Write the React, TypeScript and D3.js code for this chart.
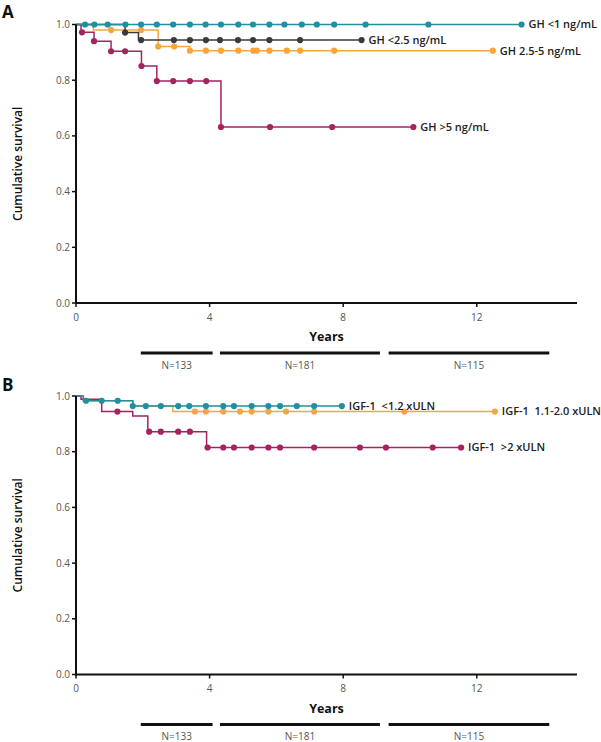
import * as d3 from "d3";

// ---- Panel A: GH groups (step times / survival after step / censor marks in years)
const gh1StepT = [0];
const gh1StepS = [1.0];
const gh1Censor = [0.27, 0.55, 0.95, 1.48, 1.95, 2.42, 2.91, 3.41, 3.88, 4.34, 4.86, 5.3, 5.79, 6.24, 6.76, 7.21, 7.73, 8.67, 10.55, 13.34];

const gh25StepT = [0, 1.47, 1.87];
const gh25StepS = [1.0, 0.971, 0.944];
const gh25Censor = [1.47, 1.95, 2.93, 3.41, 3.89, 4.31, 4.85, 5.3, 5.79, 6.71, 8.55];

const gh255StepT = [0, 0.52, 2.46, 3.41];
const gh255StepS = [1.0, 0.98, 0.921, 0.906];
const gh255Censor = [1.05, 1.95, 2.46, 2.94, 3.41, 3.89, 4.34, 4.86, 5.31, 5.41, 5.79, 6.31, 6.71, 7.73, 12.48];

const gh5StepT = [0, 0.15, 0.54, 1.05, 1.96, 2.42, 4.34];
const gh5StepS = [1.0, 0.972, 0.94, 0.904, 0.851, 0.797, 0.632];
const gh5Censor = [0.18, 0.54, 1.05, 1.47, 1.96, 2.42, 2.91, 3.41, 3.9, 4.34, 5.81, 7.67, 10.1];

// ---- Panel B: IGF-1 groups
const igfLowStepT = [0, 0.22, 1.7];
const igfLowStepS = [1.0, 0.983, 0.964];
const igfLowCensor = [0.3, 0.77, 1.25, 1.7, 2.09, 2.54, 3.06, 3.39, 3.89, 4.41, 4.73, 5.26, 5.76, 6.11, 6.61, 7.13, 7.96];

const igfMidStepT = [0, 0.22, 1.7, 2.9];
const igfMidStepS = [1.0, 0.983, 0.964, 0.944];
const igfMidCensor = [3.56, 3.89, 4.41, 4.91, 5.26, 5.76, 6.29, 7.13, 9.83, 12.54];

const igfHighStepT = [0, 0.15, 0.77, 1.7, 2.15, 3.91];
const igfHighStepS = [1.0, 0.988, 0.944, 0.928, 0.872, 0.815];
const igfHighCensor = [1.24, 2.19, 2.54, 3.06, 3.41, 3.94, 4.41, 4.73, 5.26, 5.76, 6.11, 7.13, 8.5, 9.28, 10.68, 11.53];

// axes + numbers at risk
const xTicks = [0, 4, 8, 12];
const yTicks = [0, 0.2, 0.4, 0.6, 0.8, 1.0];
const riskStart = [1.94, 4.31, 9.36];
const riskEnd = [4.09, 9.1, 14.17];
const riskLabels = ["N=133", "N=181", "N=115"];

const TEAL = "#1f8fa2";
const DARK = "#3a3a3a";
const ORANGE = "#f8a53c";
const MAGENTA = "#a3245f";
const FONT = "'Open Sans', sans-serif";

type Curve = {
  stepT: number[];
  stepS: number[];
  censor: number[];
  color: string;
  label: string;
};

function survAt(c: Curve, t: number) {
  let s = c.stepS[0];
  c.stepT.forEach((st, i) => {
    if (st <= t + 1e-9) s = c.stepS[i];
  });
  return s;
}

function Panel({
  top,
  letter,
  letterY,
  curves,
}: {
  top: number;
  letter: string;
  letterY: number;
  curves: Curve[];
}) {
  const x = d3.scaleLinear().domain([0, 15]).range([76, 577]);
  const y = d3.scaleLinear().domain([0, 1]).range([top + 278.5, top]);
  const y0 = y(0);

  const line = d3
    .line<[number, number]>()
    .x((d) => x(d[0]))
    .y((d) => y(d[1]))
    .curve(d3.curveStepAfter);

  return (
    <g>
      <text x={2} y={letterY} fontFamily={FONT} fontWeight={700} fontSize={17} fill="#111">
        {letter}
      </text>
      <text
        transform={`translate(22,${(y(0) + y(1)) / 2}) rotate(-90)`}
        textAnchor="middle"
        fontFamily={FONT}
        fontWeight={600}
        fontSize={12}
        fill="#111"
      >
        Cumulative survival
      </text>

      {/* curves */}
      {curves.map((c, ci) => {
        const end = c.censor[c.censor.length - 1];
        const pts: [number, number][] = c.stepT.map((t, i) => [t, c.stepS[i]]);
        pts.push([end, c.stepS[c.stepS.length - 1]]);
        return (
          <g key={ci}>
            <path d={line(pts) ?? ""} fill="none" stroke={c.color} strokeWidth={1.5} />
            {c.censor.map((t, i) => (
              <circle key={i} cx={x(t)} cy={y(survAt(c, t))} r={3.1} fill={c.color} />
            ))}
            <text
              x={x(end) + 7}
              y={y(c.stepS[c.stepS.length - 1])}
              dy="0.35em"
              fontFamily={FONT}
              fontWeight={600}
              fontSize={11}
              fill="#222"
              style={{ whiteSpace: "pre" }}
            >
              {c.label}
            </text>
          </g>
        );
      })}

      {/* y axis */}
      <line x1={x(0)} x2={x(0)} y1={y(0) + 1} y2={y(1)} stroke="#111" strokeWidth={2} />
      {yTicks.map((v) => (
        <g key={v}>
          <line x1={x(0) - 4} x2={x(0)} y1={y(v)} y2={y(v)} stroke="#111" strokeWidth={1.5} />
          <text
            x={x(0) - 6}
            y={y(v)}
            dy="0.35em"
            textAnchor="end"
            fontFamily={FONT}
            fontSize={10}
            fill="#555"
          >
            {d3.format(".1f")(v)}
          </text>
        </g>
      ))}

      {/* x axis */}
      <line x1={x(0) - 1} x2={x(15)} y1={y0} y2={y0} stroke="#111" strokeWidth={2} />
      {xTicks.map((v) => (
        <g key={v}>
          <line x1={x(v)} x2={x(v)} y1={y0} y2={y0 + 4} stroke="#111" strokeWidth={1.5} />
          <text
            x={x(v)}
            y={y0 + 14}
            dy="0.35em"
            textAnchor="middle"
            fontFamily={FONT}
            fontSize={10}
            fill="#555"
          >
            {v}
          </text>
        </g>
      ))}
      <text
        x={(x(0) + x(15)) / 2}
        y={y0 + 34}
        dy="0.35em"
        textAnchor="middle"
        fontFamily={FONT}
        fontWeight={700}
        fontSize={12.5}
        fill="#111"
      >
        Years
      </text>

      {/* numbers at risk */}
      {riskLabels.map((lab, i) => (
        <g key={lab}>
          <line
            x1={x(riskStart[i])}
            x2={x(riskEnd[i])}
            y1={y0 + 50}
            y2={y0 + 50}
            stroke="#111"
            strokeWidth={3}
          />
          <text
            x={(x(riskStart[i]) + x(riskEnd[i])) / 2}
            y={y0 + 62}
            dy="0.35em"
            textAnchor="middle"
            fontFamily={FONT}
            fontSize={10}
            fill="#555"
          >
            {lab}
          </text>
        </g>
      ))}
    </g>
  );
}

export default function App() {
  const curvesA: Curve[] = [
    { stepT: gh255StepT, stepS: gh255StepS, censor: gh255Censor, color: ORANGE, label: "GH 2.5-5 ng/mL" },
    { stepT: gh25StepT, stepS: gh25StepS, censor: gh25Censor, color: DARK, label: "GH <2.5 ng/mL" },
    { stepT: gh5StepT, stepS: gh5StepS, censor: gh5Censor, color: MAGENTA, label: "GH >5 ng/mL" },
    { stepT: gh1StepT, stepS: gh1StepS, censor: gh1Censor, color: TEAL, label: "GH <1 ng/mL" },
  ];
  const curvesB: Curve[] = [
    { stepT: igfMidStepT, stepS: igfMidStepS, censor: igfMidCensor, color: ORANGE, label: "IGF-1  1.1-2.0 xULN" },
    { stepT: igfHighStepT, stepS: igfHighStepS, censor: igfHighCensor, color: MAGENTA, label: "IGF-1  >2 xULN" },
    { stepT: igfLowStepT, stepS: igfLowStepS, censor: igfLowCensor, color: TEAL, label: "IGF-1  <1.2 xULN" },
  ];

  return (
    <svg
      width={601}
      height={742}
      viewBox="0 0 601 742"
      style={{ position: "absolute", left: 0, top: 0, background: "#fff" }}
    >
      <Panel top={24.5} letter="A" letterY={17.5} curves={curvesA} />
      <Panel top={396} letter="B" letterY={391} curves={curvesB} />
    </svg>
  );
}
